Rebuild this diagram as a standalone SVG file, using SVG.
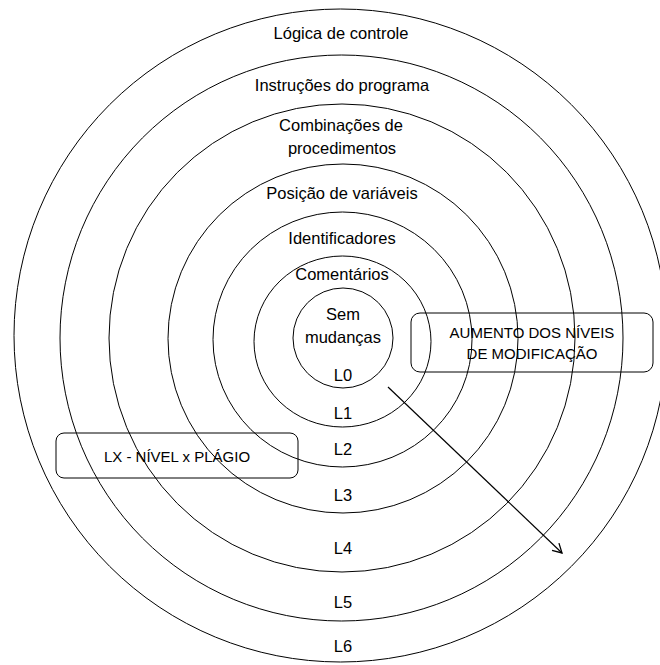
<svg xmlns="http://www.w3.org/2000/svg" width="660" height="665" viewBox="0 0 660 665">
  <style>
    .ring { fill: none; stroke: #000; stroke-width: 1; }
    .box { fill: none; stroke: #000; stroke-width: 1; }
    .lbl { font-family: "Liberation Sans", Arial, sans-serif; font-size: 16.5px; fill: #000; text-anchor: middle; }
    .cap { font-size: 15px; }
    .edge { fill: none; stroke: #000; stroke-width: 1.2; }
  </style>
  <defs>
    <marker id="arrow" markerWidth="12" markerHeight="12" refX="10" refY="6" orient="auto" markerUnits="userSpaceOnUse">
      <path d="M1,1 L10,6 L1,11" fill="none" stroke="#000" stroke-width="1.3"/>
    </marker>
  </defs>
  <rect width="660" height="665" fill="#fff"/>

  <!-- L6: outer ring -->
  <g id="ring-l6">
    <ellipse class="ring" cx="340.5" cy="335.5" rx="326.5" ry="326.5"/>
    <text class="lbl" x="341" y="39">Lógica de controle</text>
    <text class="lbl" x="343" y="652">L6</text>
  </g>
  <!-- L5 -->
  <g id="ring-l5">
    <ellipse class="ring" cx="341.5" cy="338" rx="281.5" ry="283"/>
    <text class="lbl" x="342" y="91">Instruções do programa</text>
    <text class="lbl" x="343" y="608">L5</text>
  </g>
  <!-- L4 -->
  <g id="ring-l4">
    <ellipse class="ring" cx="342" cy="338" rx="233" ry="234"/>
    <text class="lbl" x="341" y="131">Combinações de</text>
    <text class="lbl" x="342" y="154">procedimentos</text>
    <text class="lbl" x="343" y="554">L4</text>
  </g>
  <!-- L3 -->
  <g id="ring-l3">
    <ellipse class="ring" cx="343" cy="338.5" rx="175" ry="174.5"/>
    <text class="lbl" x="342" y="199">Posição de variáveis</text>
    <text class="lbl" x="343" y="501">L3</text>
  </g>
  <!-- L2 -->
  <g id="ring-l2">
    <ellipse class="ring" cx="342.5" cy="339.5" rx="129.5" ry="127.5"/>
    <text class="lbl" x="342" y="244">Identificadores</text>
    <text class="lbl" x="343" y="455">L2</text>
  </g>
  <!-- L1 -->
  <g id="ring-l1">
    <ellipse class="ring" cx="342.5" cy="341.5" rx="88.5" ry="85.5"/>
    <text class="lbl" x="342" y="280">Comentários</text>
    <text class="lbl" x="343" y="419">L1</text>
  </g>
  <!-- L0: core -->
  <g id="ring-l0">
    <circle class="ring" cx="343" cy="338" r="50"/>
    <text class="lbl" x="343" y="320">Sem</text>
    <text class="lbl" x="343" y="343">mudanças</text>
    <text class="lbl" x="343" y="381">L0</text>
  </g>

  <!-- Legend boxes -->
  <g id="box-aumento">
    <rect class="box" x="411" y="313" width="242" height="59" rx="9"/>
    <text class="lbl cap" x="532" y="337.5">AUMENTO DOS NÍVEIS</text>
    <text class="lbl cap" x="532" y="359">DE MODIFICAÇÃO</text>
  </g>
  <g id="box-lx">
    <rect class="box" x="56" y="433" width="242" height="45" rx="8"/>
    <text class="lbl cap" x="177" y="462">LX - NÍVEL x PLÁGIO</text>
  </g>

  <!-- Connectors -->
  <g id="connectors">
    <line class="edge" x1="388" y1="387" x2="562" y2="553" marker-end="url(#arrow)"/>
  </g>
</svg>
